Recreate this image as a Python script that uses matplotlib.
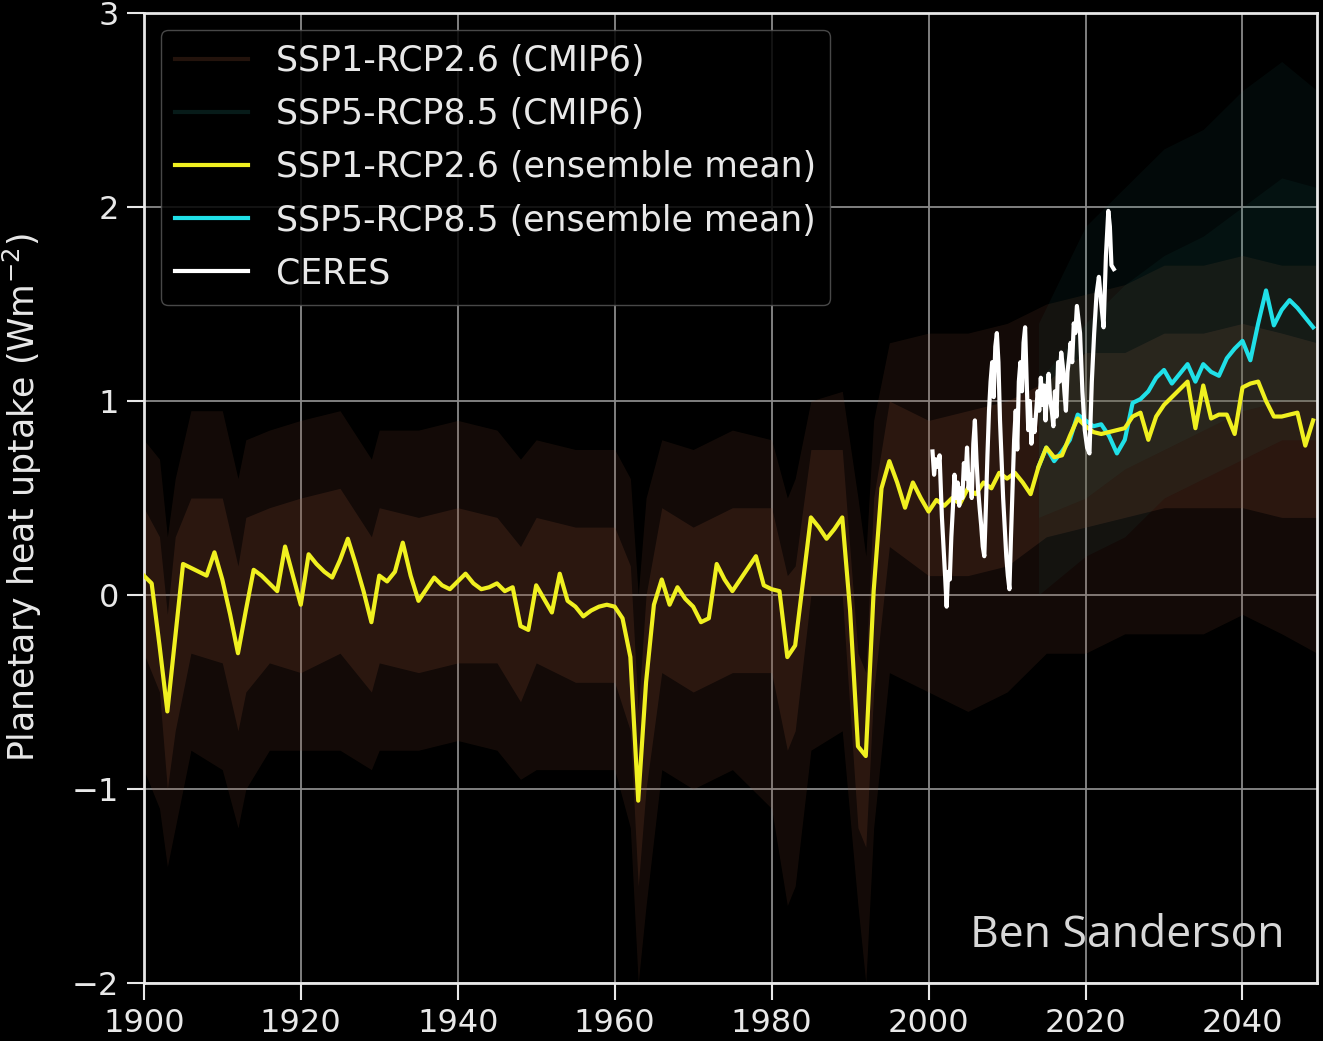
import numpy as np
import matplotlib
matplotlib.use("Agg")
import matplotlib.pyplot as plt

# ensemble-mean planetary heat uptake (W m-2), one value per year
years = np.arange(1900, 2050)
ssp126_mean = [
    0.10, 0.06, -0.26, -0.60, -0.22, 0.16, 0.14, 0.12, 0.10, 0.22,
    0.08, -0.10, -0.30, -0.08, 0.13, 0.10, 0.06, 0.02, 0.25, 0.10,
    -0.05, 0.21, 0.16, 0.12, 0.09, 0.18, 0.29, 0.16, 0.02, -0.14,
    0.10, 0.07, 0.12, 0.27, 0.10, -0.03, 0.03, 0.09, 0.05, 0.03,
    0.07, 0.11, 0.06, 0.03, 0.04, 0.06, 0.02, 0.04, -0.16, -0.18,
    0.05, -0.02, -0.09, 0.11, -0.03, -0.06, -0.11, -0.08, -0.06, -0.05,
    -0.06, -0.12, -0.32, -1.06, -0.45, -0.05, 0.08, -0.05, 0.04, -0.02,
    -0.06, -0.14, -0.12, 0.16, 0.08, 0.02, 0.08, 0.14, 0.20, 0.05,
    0.03, 0.02, -0.32, -0.26, 0.07, 0.40, 0.35, 0.29, 0.34, 0.40,
    -0.08, -0.78, -0.83, 0.02, 0.55, 0.69, 0.58, 0.45, 0.58, 0.50,
    0.43, 0.49, 0.46, 0.50, 0.47, 0.55, 0.52, 0.58, 0.55, 0.63,
    0.60, 0.63, 0.58, 0.52, 0.66, 0.76, 0.71, 0.72, 0.82, 0.91,
    0.87, 0.84, 0.83, 0.84, 0.85, 0.86, 0.92, 0.94, 0.80, 0.92,
    0.98, 1.02, 1.06, 1.10, 0.86, 1.08, 0.91, 0.93, 0.93, 0.83,
    1.07, 1.09, 1.10, 1.00, 0.92, 0.92, 0.93, 0.94, 0.77, 0.90,
]

years_585 = np.arange(2014, 2050)
ssp585_mean = [
    0.66, 0.76, 0.69, 0.74, 0.80, 0.93, 0.90, 0.87, 0.88, 0.82,
    0.73, 0.80, 0.99, 1.01, 1.05, 1.12, 1.16, 1.09, 1.14, 1.19,
    1.10, 1.19, 1.15, 1.13, 1.22, 1.27, 1.31, 1.21, 1.40, 1.57,
    1.39, 1.47, 1.52, 1.48, 1.43, 1.38,
]

# CERES net TOA imbalance
ceres_t = [
    2000.5, 2000.7, 2000.9, 2001.2, 2001.4, 2001.7, 2001.9, 2002.1, 2002.3, 2002.5,
    2002.7, 2002.9, 2003.1, 2003.3, 2003.5, 2003.7, 2003.9, 2004.1, 2004.3, 2004.5,
    2004.7, 2004.9, 2005.1, 2005.3, 2005.5, 2005.7, 2005.9, 2006.1, 2006.3, 2006.5,
    2006.7, 2006.9, 2007.1, 2007.3, 2007.5, 2007.7, 2007.9, 2008.1, 2008.3, 2008.5,
    2008.7, 2008.9, 2009.1, 2009.3, 2009.5, 2009.7, 2009.9, 2010.1, 2010.3, 2010.5,
    2010.7, 2010.9, 2011.1, 2011.3, 2011.5, 2011.7, 2011.9, 2012.1, 2012.3, 2012.5,
    2012.7, 2012.9, 2013.1, 2013.3, 2013.5, 2013.7, 2013.9, 2014.1, 2014.3, 2014.5,
    2014.7, 2014.9, 2015.1, 2015.3, 2015.5, 2015.7, 2015.9, 2016.1, 2016.3, 2016.5,
    2016.7, 2016.9, 2017.1, 2017.3, 2017.5, 2017.7, 2017.9, 2018.1, 2018.3, 2018.5,
    2018.7, 2018.9, 2019.3, 2019.6, 2019.9, 2020.2, 2020.5, 2020.8, 2021.1, 2021.4,
    2021.7, 2022.0, 2022.3, 2022.6, 2022.9, 2023.1, 2023.3, 2023.6,
]
ceres = [
    0.74, 0.62, 0.70, 0.66, 0.72, 0.40, 0.25, 0.10, -0.06, 0.12,
    0.08, 0.30, 0.45, 0.62, 0.50, 0.58, 0.46, 0.55, 0.50, 0.68,
    0.60, 0.76, 0.55, 0.62, 0.50, 0.78, 0.90, 0.70, 0.55, 0.45,
    0.36, 0.25, 0.20, 0.45, 0.72, 0.95, 1.10, 1.20, 1.02, 1.28,
    1.35, 1.20, 0.90, 0.70, 0.50, 0.35, 0.20, 0.10, 0.03, 0.30,
    0.55, 0.80, 0.95, 0.75, 1.10, 1.20, 1.05, 1.30, 1.38, 1.10,
    0.85, 1.00, 0.78, 0.90, 0.84, 0.94, 1.05, 0.95, 1.12, 0.98,
    1.08, 0.90, 1.05, 1.14, 1.00, 0.95, 0.87, 1.05, 0.92, 1.20,
    1.10, 1.25, 1.18, 1.05, 0.95, 1.15, 1.22, 1.30, 1.20, 1.40,
    1.35, 1.49, 1.35, 1.05, 0.85, 0.76, 0.73, 1.10, 1.35, 1.55,
    1.64, 1.50, 1.38, 1.75, 1.98, 1.90, 1.70, 1.68,
]

# CMIP6 model spread, SSP1-2.6 (historical + scenario)
spread_t = [
    1900, 1902, 1903, 1904, 1906, 1910, 1912, 1913, 1916, 1920,
    1925, 1929, 1930, 1935, 1940, 1945, 1948, 1950, 1955, 1960,
    1962, 1963, 1964, 1966, 1970, 1975, 1980, 1982, 1983, 1985,
    1989, 1991, 1992, 1993, 1995, 2000, 2005, 2010, 2015, 2020,
    2025, 2030, 2035, 2040, 2045, 2049.5,
]
ssp126_hi = [
    0.80, 0.70, 0.30, 0.60, 0.95, 0.95, 0.60, 0.80, 0.85, 0.90,
    0.95, 0.70, 0.85, 0.85, 0.90, 0.85, 0.70, 0.80, 0.75, 0.75,
    0.60, 0.00, 0.50, 0.80, 0.75, 0.85, 0.80, 0.50, 0.60, 1.00,
    1.05, 0.50, 0.20, 0.90, 1.30, 1.35, 1.35, 1.40, 1.50, 1.55,
    1.60, 1.70, 1.70, 1.75, 1.70, 1.70,
]
ssp126_lo = [
    -0.90, -1.10, -1.40, -1.20, -0.80, -0.90, -1.20, -1.00, -0.80, -0.80,
    -0.80, -0.90, -0.80, -0.80, -0.75, -0.80, -0.95, -0.90, -0.90, -0.90,
    -1.20, -2.00, -1.60, -0.90, -1.00, -0.90, -1.10, -1.60, -1.50, -0.80,
    -0.70, -1.60, -2.00, -1.20, -0.40, -0.50, -0.60, -0.50, -0.30, -0.30,
    -0.20, -0.20, -0.20, -0.10, -0.20, -0.30,
]
ssp126_q_hi = [
    0.45, 0.30, -0.10, 0.30, 0.50, 0.50, 0.15, 0.40, 0.45, 0.50,
    0.55, 0.30, 0.45, 0.40, 0.45, 0.40, 0.25, 0.40, 0.35, 0.35,
    0.15, -0.60, 0.00, 0.45, 0.35, 0.45, 0.45, 0.10, 0.15, 0.75,
    0.75, -0.30, -0.40, 0.50, 1.00, 0.90, 0.95, 1.00, 1.10, 1.25,
    1.25, 1.35, 1.35, 1.40, 1.35, 1.30,
]
ssp126_q_lo = [
    -0.30, -0.50, -1.00, -0.70, -0.30, -0.35, -0.70, -0.50, -0.35, -0.40,
    -0.30, -0.50, -0.35, -0.40, -0.35, -0.35, -0.55, -0.35, -0.45, -0.45,
    -0.70, -1.50, -1.00, -0.40, -0.50, -0.40, -0.40, -0.80, -0.70, 0.00,
    0.00, -1.20, -1.30, -0.50, 0.25, 0.10, 0.10, 0.15, 0.30, 0.35,
    0.40, 0.45, 0.45, 0.45, 0.40, 0.40,
]

# CMIP6 model spread, SSP5-8.5
spread585_t = [2014, 2020, 2025, 2030, 2035, 2040, 2045, 2049.5]
ssp585_hi = [1.40, 1.90, 2.10, 2.30, 2.40, 2.60, 2.75, 2.60]
ssp585_lo = [0.00, 0.20, 0.30, 0.50, 0.60, 0.70, 0.80, 0.80]
ssp585_q_hi = [1.10, 1.40, 1.60, 1.75, 1.85, 2.00, 2.15, 2.10]
ssp585_q_lo = [0.40, 0.50, 0.65, 0.75, 0.85, 0.95, 1.00, 1.00]

plt.style.use('dark_background')
plt.rcParams['font.size'] = 23

fig = plt.figure(figsize=(13.23, 10.41), dpi=100)
ax = fig.add_axes([0.1087, 0.0557, 0.8868, 0.9318])

brown = (0.55, 0.30, 0.20)
teal = (0.15, 0.55, 0.50)

ax.fill_between(spread_t, ssp126_lo, ssp126_hi, color=brown, alpha=0.14, lw=0)
ax.fill_between(spread_t, ssp126_q_lo, ssp126_q_hi, color=brown, alpha=0.2, lw=0)
ax.fill_between(spread585_t, ssp585_lo, ssp585_hi, color=teal, alpha=0.07, lw=0)
ax.fill_between(spread585_t, ssp585_q_lo, ssp585_q_hi, color=teal, alpha=0.07, lw=0)

# legend proxies for the individual model runs
ax.plot([], [], color=brown, alpha=0.25, lw=3, label='SSP1-RCP2.6 (CMIP6)')
ax.plot([], [], color=teal, alpha=0.2, lw=3, label='SSP5-RCP8.5 (CMIP6)')

ax.plot(years, ssp126_mean, color='#f0f020', lw=3, zorder=4,
        label='SSP1-RCP2.6 (ensemble mean)')
ax.plot(years_585, ssp585_mean, color='#20e0e8', lw=3, zorder=3,
        label='SSP5-RCP8.5 (ensemble mean)')
ax.plot(ceres_t, ceres, color='white', lw=3, zorder=5, label='CERES')

ax.set_xlim(1900, 2049.5)
ax.set_ylim(-2, 3)
ax.set_xticks(range(1900, 2041, 20))
ax.set_yticks(range(-2, 4))
ax.grid(True, color='#8a8a8a', lw=1.3)
ax.set_axisbelow(True)
ax.tick_params(length=12, width=1.5, pad=6, colors='#e8e8e8')
for s in ax.spines.values():
    s.set_color('#e8e8e8')
    s.set_linewidth(2)

ax.set_ylabel('Planetary heat uptake (Wm$^{-2}$)', color='#e8e8e8', fontsize=25)
ax.yaxis.set_label_coords(-0.085, 0.5)

leg = ax.legend(loc='upper left', facecolor='black', edgecolor='#555555',
                framealpha=0.85, handlelength=2.1, labelspacing=0.55,
                fontsize=25)
for t in leg.get_texts():
    t.set_color('#e8e8e8')

fig.text(0.971, 0.0903, 'Ben Sanderson', family='Open Sans', fontsize=32,
         color='#d8d8d8', ha='right', va='baseline')

fig.savefig('out.png', dpi=100, facecolor='black')
